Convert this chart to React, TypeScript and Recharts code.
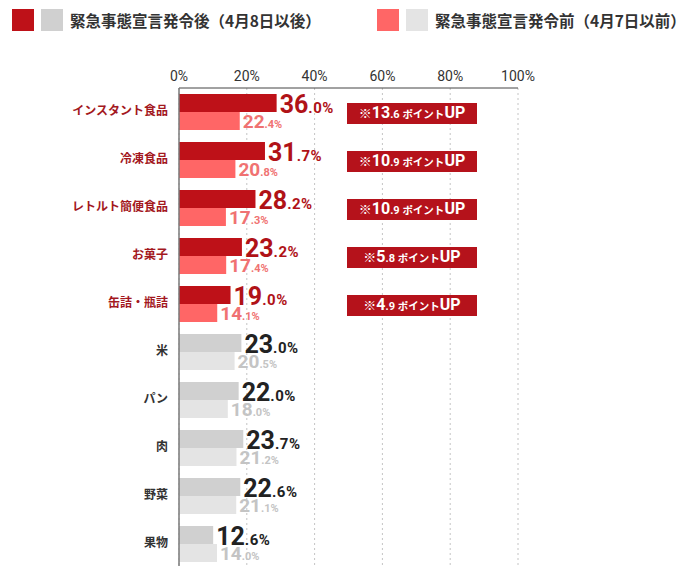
import React from "react";
import {
  BarChart,
  Bar,
  XAxis,
  YAxis,
  CartesianGrid,
  Cell,
  LabelList,
} from "recharts";

// 品目（上から順）
const categories = [
  "インスタント食品",
  "冷凍食品",
  "レトルト簡便食品",
  "お菓子",
  "缶詰・瓶詰",
  "米",
  "パン",
  "肉",
  "野菜",
  "果物",
];
// 緊急事態宣言発令後（4月8日以後）
const afterValues = [36.0, 31.7, 28.2, 23.2, 19.0, 23.0, 22.0, 23.7, 22.6, 12.6];
// 緊急事態宣言発令前（4月7日以前）
const beforeValues = [22.4, 20.8, 17.3, 17.4, 14.1, 20.5, 18.0, 21.2, 21.1, 14.0];
// ポイント差の注記（強調する5品目のみ）
const pointUp = ["13.6", "10.9", "10.9", "5.8", "4.9"];
// 上端の目盛り。元の図では目盛りの間隔が棒の長さと一致していないので、
// 棒の軸（0〜125）の上に等間隔で 0%〜100% の文字を置く
const tickLabels = ["0%", "20%", "40%", "60%", "80%", "100%"];
const barAxisMax = 125;

const RED = "#BE1118";
const PINK = "#FF6666";
const GRAY = "#D0D0D0";
const LIGHT_GRAY = "#E4E4E4";

const JP = "'Noto Sans CJK JP', 'Noto Sans', sans-serif";
const NUM = "Roboto, 'Liberation Sans', sans-serif";

const data = categories.map((name, i) => ({
  name,
  after: afterValues[i],
  before: beforeValues[i],
  hi: i < pointUp.length,
}));

const tickValues = tickLabels.map((_, i) => (barAxisMax / (tickLabels.length - 1)) * i);

const splitValue = (v: number) => {
  const [a, b] = v.toFixed(1).split(".");
  return [a, "." + b + "%"];
};

const AfterLabel = (props: any) => {
  const { x, y, width, height, index } = props;
  const [a, b] = splitValue(afterValues[index]);
  const hi = index < pointUp.length;
  const color = hi ? "#B01217" : "#222";
  const [p1, p2] = hi ? pointUp[index].split(".") : ["", ""];
  return (
    <g>
      <text
        x={x + width + 3}
        y={y + height + 1}
        fontFamily={NUM}
        fontWeight={700}
        fill={color}
      >
        <tspan fontSize={25}>{a}</tspan>
        <tspan fontSize={15} letterSpacing={0.5}>{b}</tspan>
      </text>
      {hi && (
        <g>
          <rect x={x + 168} y={y + 9} width={130} height={21} fill="#B5121B" />
          <text
            x={x + 168 + 65}
            y={y + 23.5}
            textAnchor="middle"
            fill="#fff"
            fontWeight={700}
            fontFamily={NUM}
          >
            <tspan fontSize={13} fontFamily={JP}>※</tspan>
            <tspan fontSize={16}>{p1}</tspan>
            <tspan fontSize={11}>{"." + p2} </tspan>
            <tspan fontSize={10.5} fontFamily={JP}>ポイント</tspan>
            <tspan fontSize={16}>UP</tspan>
          </text>
        </g>
      )}
    </g>
  );
};

const BeforeLabel = (props: any) => {
  const { x, y, width, height, index } = props;
  const [a, b] = splitValue(beforeValues[index]);
  const hi = index < pointUp.length;
  return (
    <text
      x={x + width + 3}
      y={y + height - 2}
      fontFamily={NUM}
      fontWeight={700}
      fill={hi ? "#F07272" : "#C4C4C4"}
    >
      <tspan fontSize={19}>{a}</tspan>
      <tspan fontSize={11}>{b}</tspan>
    </text>
  );
};

const CategoryTick = (props: any) => {
  const { x, y, payload, index } = props;
  const hi = index < pointUp.length;
  return (
    <text
      x={x}
      y={y}
      dy={3}
      textAnchor="end"
      fontFamily={JP}
      fontWeight={700}
      fontSize={12}
      fill={hi ? "#A3181E" : "#333"}
    >
      {payload.value}
    </text>
  );
};

const LegendItem = ({
  left,
  colors,
  text,
}: {
  left: number;
  colors: string[];
  text: string;
}) => (
  <div
    style={{
      position: "absolute",
      left,
      top: 9,
      display: "flex",
      alignItems: "center",
      whiteSpace: "nowrap",
    }}
  >
    <span style={{ width: 22, height: 22, background: colors[0], display: "inline-block" }} />
    <span
      style={{ width: 22, height: 22, background: colors[1], display: "inline-block", marginLeft: 7 }}
    />
    <span
      style={{
        marginLeft: 7,
        fontFamily: JP,
        fontWeight: 700,
        fontSize: 15.5,
        letterSpacing: 0,
        color: "#333",
        lineHeight: "22px",
      }}
    >
      {text}
    </span>
  </div>
);

export default function App() {
  return (
    <div
      style={{
        position: "absolute",
        left: 0,
        top: 0,
        width: 692,
        height: 566,
        overflow: "hidden",
        background: "#fff",
      }}
    >
      <LegendItem left={12} colors={[RED, GRAY]} text="緊急事態宣言発令後（4月8日以後）" />
      <LegendItem left={377} colors={[PINK, LIGHT_GRAY]} text="緊急事態宣言発令前（4月7日以前）" />
      <div style={{ position: "absolute", left: 0, top: 0 }}>
        <BarChart
          width={692}
          height={570}
          data={data}
          layout="vertical"
          margin={{ top: 58, right: 174, bottom: 2, left: 0 }}
          barSize={18}
          barGap={0}
        >
          <CartesianGrid horizontal={false} stroke="#c4c4c4" strokeDasharray="2 3" />
          <XAxis
            type="number"
            orientation="top"
            domain={[0, barAxisMax]}
            ticks={tickValues}
            tickFormatter={(v, i) => tickLabels[i]}
            height={30}
            tickLine={false}
            tickSize={0}
            tickMargin={7}
            axisLine={{ stroke: "#444" }}
            tick={{ fontFamily: NUM, fontSize: 14, fill: "#333" }}
          />
          <YAxis
            type="category"
            dataKey="name"
            width={179}
            tickLine={false}
            tickSize={0}
            tickMargin={11}
            axisLine={{ stroke: "#7a7a7a", strokeWidth: 1.5 }}
            tick={<CategoryTick />}
            interval={0}
          />
          <Bar dataKey="after" isAnimationActive={false}>
            {data.map((d, i) => (
              <Cell key={i} fill={d.hi ? RED : GRAY} />
            ))}
            <LabelList dataKey="after" content={<AfterLabel />} />
          </Bar>
          <Bar dataKey="before" isAnimationActive={false}>
            {data.map((d, i) => (
              <Cell key={i} fill={d.hi ? PINK : LIGHT_GRAY} />
            ))}
            <LabelList dataKey="before" content={<BeforeLabel />} />
          </Bar>
        </BarChart>
      </div>
    </div>
  );
}
